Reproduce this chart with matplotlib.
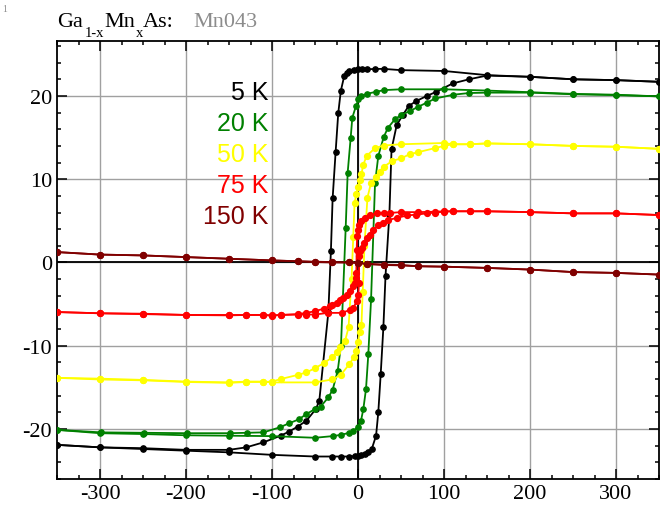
import matplotlib
matplotlib.use("Agg")
import matplotlib.pyplot as plt
from matplotlib.ticker import MultipleLocator

plt.rcParams["font.family"] = "Liberation Serif"
plt.rcParams["axes.unicode_minus"] = False

# field sweeps (Oe) and magnetisation
# 5 K
h5_down = [350, 300, 250, 200, 150, 100, 50, 30, 20, 10, 5, 0, -5, -10, -13, -16, -20, -23,
           -26, -29.5, -31.5, -34.5, -45, -49, -60, -70, -80, -90, -110, -130, -150, -200,
           -250, -300, -350]
m5_down = [21.7, 21.9, 22.0, 22.3, 22.5, 23.0, 23.1, 23.25, 23.25, 23.2, 23.2, 23.2, 23.15,
           23.0, 22.8, 22.4, 20.6, 17.9, 13.3, 7.7, 1.4, -6.0, -16.6, -17.6, -19.0, -19.7,
           -20.3, -20.8, -21.6, -22.2, -22.5, -22.5, -22.3, -22.2, -21.9]
h5_up = [-350, -300, -250, -200, -150, -100, -50, -30, -20, -10, -4, 0, 4, 8, 12, 16, 21,
         23.6, 26.4, 29.5, 32, 36.5, 39, 45, 52, 59, 68, 80, 91, 110, 129, 150, 200, 250,
         300, 350]
m5_up = [-21.9, -22.2, -22.4, -22.6, -22.8, -23.1, -23.3, -23.3, -23.3, -23.3, -23.25, -23.2,
         -23.1, -23.0, -22.8, -22.4, -20.8, -18.0, -13.4, -7.8, -1.6, 5.8, 13.6, 16.5, 17.7,
         18.8, 19.4, 20.0, 20.5, 21.5, 22.0, 22.45, 22.3, 22.0, 21.9, 21.7]

# 20 K
h20_down = [350, 300, 250, 200, 150, 100, 50, 30, 21, 10, 4, 0.5, -2.3, -6.6, -8.5, -12,
            -14.3, -19.8, -23.6, -29.5, -34.5, -43.4, -50, -60, -69, -80, -91, -110, -129,
            -149, -199, -249, -299, -350]
m20_down = [19.95, 20.15, 20.25, 20.45, 20.65, 20.8, 20.8, 20.7, 20.5, 20.25, 20.0, 19.6,
            18.8, 17.4, 15.0, 10.8, 4.2, -10.0, -13.0, -15.3, -16.2, -17.3, -17.6, -18.2,
            -18.85, -19.3, -19.8, -20.4, -20.45, -20.5, -20.5, -20.45, -20.4, -20.1]
h20_up = [-350, -300, -250, -200, -150, -100, -50, -29.5, -20, -10, -5.4, 0.4, 3.5, 6.2, 9.3,
          12, 15.2, 19.8, 23.6, 30, 35, 43, 50, 60.5, 70, 80, 90, 111, 129, 150, 200, 250,
          300, 350]
m20_up = [-20.1, -20.5, -20.6, -20.75, -20.8, -20.85, -21.05, -20.85, -20.7, -20.45, -20.25,
          -19.7, -19.0, -17.6, -15.2, -11.0, -4.4, 9.5, 12.8, 15.1, 16.2, 17.2, 17.7, 18.2,
          18.7, 19.2, 19.7, 20.15, 20.35, 20.4, 20.4, 20.2, 20.1, 19.95]

# 50 K
h50_down = [350, 300, 250, 200, 150, 130, 110, 100, 50, 30, 20, 10, 6, 4, 2, 0, -2, -4, -5.5,
            -7.5, -11, -15, -21, -25, -30, -40, -50, -60, -70, -90, -100, -110, -130, -150,
            -200, -250, -300, -350]
m50_down = [13.65, 13.9, 14.0, 14.2, 14.3, 14.2, 14.2, 14.35, 14.2, 14.05, 13.75, 12.8, 11.7,
            10.6, 9.9, 9.1, 8.2, 7.1, 3.1, -2.0, -7.8, -9.4, -10.2, -10.8, -11.4, -12.1,
            -12.7, -13.2, -13.5, -14.0, -14.3, -14.35, -14.35, -14.45, -14.35, -14.15,
            -14.05, -13.85]
h50_up = [-350, -300, -250, -200, -150, -130, -110, -100, -50, -30, -20, -10, -5, -2, 0, 2, 4,
          5.5, 7.5, 11, 15, 21, 25, 30, 40, 50, 60, 70, 90, 100, 110, 130, 150, 200, 250,
          300, 350]
m50_up = [-13.85, -13.95, -14.1, -14.3, -14.4, -14.3, -14.3, -14.4, -14.4, -14.05, -13.5,
          -12.2, -11.4, -10.6, -9.5, -8.4, -7.5, -3.5, 2.0, 7.8, 9.5, 10.3, 10.9, 11.5, 12.2,
          12.5, 13.0, 13.25, 13.75, 14.0, 14.2, 14.2, 14.3, 14.2, 14.0, 13.9, 13.65]

# 75 K
h75_down = [350, 300, 250, 200, 150, 130, 110, 100, 90, 70, 50, 37, 30, 22, 14, 8, 4, 1.5,
            0.5, -1.0, -1.5, -2.0, -2.5, -3.5, -5.4, -9.3, -13, -17, -21, -25, -30, -33,
            -40, -50, -60, -70, -90, -100, -110, -130, -150, -200, -250, -300, -350]
m75_down = [5.7, 5.9, 5.9, 6.05, 6.15, 6.15, 6.15, 6.15, 6.1, 6.05, 6.05, 5.95, 5.95, 5.9,
            5.65, 5.35, 4.95, 4.55, 3.95, 3.15, 1.55, -1.25, -1.85, -2.45, -2.85, -3.45,
            -3.85, -4.25, -4.5, -4.85, -5.05, -5.25, -5.55, -5.85, -6.05, -6.2, -6.3, -6.4,
            -6.3, -6.3, -6.3, -6.3, -6.15, -6.1, -5.95]
h75_up = [-350, -300, -250, -200, -150, -130, -110, -100, -90, -70, -60, -50, -35, -19, -9.3,
          -5.4, -1.5, 0.4, 1.0, 1.5, 2.3, 4.3, 7.3, 10, 14, 18, 23.6, 29.5, 35, 45, 57, 68,
          80, 90, 100, 110, 130, 150, 200, 250, 300, 350]
m75_up = [-5.95, -6.1, -6.2, -6.3, -6.35, -6.3, -6.3, -6.35, -6.3, -6.25, -6.25, -6.25, -6.05,
          -6.05, -5.7, -5.45, -4.65, -3.95, -2.5, 0.75, 1.35, 1.75, 2.35, 2.95, 3.35, 3.95,
          4.45, 4.75, 5.1, 5.35, 5.65, 5.75, 5.9, 6.0, 6.1, 6.15, 6.15, 6.15, 6.05, 5.9,
          5.9, 5.7]

# 150 K
h150_down = [350, 300, 250, 200, 150, 100, 70, 50, 30, 10, 0, -10, -30, -50, -70, -100, -150,
             -200, -250, -300, -350]
m150_down = [-1.45, -1.25, -1.15, -0.85, -0.65, -0.5, -0.45, -0.3, -0.25, -0.15, -0.05, 0.0,
             0.05, 0.1, 0.15, 0.25, 0.45, 0.65, 0.85, 0.95, 1.25]
h150_up = [-350, -300, -250, -200, -150, -100, -70, -50, -30, -10, 0, 10, 30, 50, 70, 100,
           150, 200, 250, 300, 350]
m150_up = [1.25, 0.95, 0.85, 0.65, 0.45, 0.25, 0.15, 0.05, 0.0, 0.0, -0.05, -0.2, -0.3,
           -0.35, -0.45, -0.5, -0.65, -0.85, -1.15, -1.25, -1.45]

labels = ["5 K", "20 K", "50 K", "75 K", "150 K"]
colors = ["black", "#008000", "#ffff00", "#ff0000", "#800000"]
loops = [
    (h5_down, m5_down, h5_up, m5_up),
    (h20_down, m20_down, h20_up, m20_up),
    (h50_down, m50_down, h50_up, m50_up),
    (h75_down, m75_down, h75_up, m75_up),
    (h150_down, m150_down, h150_up, m150_up),
]

fig = plt.figure(figsize=(6.6, 5.1), dpi=100)
ax = fig.add_axes([57 / 660, 30 / 510, 602 / 660, 438 / 510])

ax.set_xlim(-350, 350)
ax.set_ylim(-26, 26.6)
ax.xaxis.set_major_locator(MultipleLocator(100))
ax.xaxis.set_minor_locator(MultipleLocator(25))
ax.yaxis.set_major_locator(MultipleLocator(10))
ax.yaxis.set_minor_locator(MultipleLocator(2))
ax.grid(True, which="major", color="#a0a0a0", linewidth=1.0, zorder=0)
ax.set_axisbelow(True)
ax.axhline(0, color="black", linewidth=1.3, zorder=1)
ax.axvline(0, color="black", linewidth=1.3, zorder=1)

ax.tick_params(which="both", direction="in", top=True, right=True, labelsize=16,
               width=1.1, pad=3.5)
ax.tick_params(which="major", length=7)
ax.tick_params(which="minor", length=3)
for s in ax.spines.values():
    s.set_linewidth(1.3)

for (hd, md, hu, mu), c in zip(loops, colors):
    ms = 4.2 if c in ("#ffff00", "#ff0000", "#800000") else 3.8
    ax.plot(hd, md, "-o", color=c, markersize=ms, linewidth=1.3, zorder=3)
    ax.plot(hu, mu, "-o", color=c, markersize=ms, linewidth=1.3, zorder=3)

for i, (lab, c) in enumerate(zip(labels, colors)):
    ax.text(0.3505, 0.8836 - i * 0.0708, lab, transform=ax.transAxes, color=c,
            fontsize=18, family="Liberation Sans", ha="right", va="center")

# title pieces: main text with dropped subscripts, sample name in grey
title_parts = [("Ga", 57, 27, 16, "black"), ("1-x", 85, 37, 10.5, "black"),
               ("Mn", 104, 27, 16, "black"), ("x", 136, 37, 10.5, "black"),
               ("As:", 143, 27, 16, "black"), ("Mn043", 193, 27, 16, "#8c8c8c")]
for txt, px, py, fs, col in title_parts:
    fig.text(px / 660, 1 - py / 510, txt, fontsize=fs, color=col, va="baseline")
fig.text(2 / 660, 1 - 12 / 510, "1", fontsize=7, color="#8c8c8c")

fig.savefig("out.png", dpi=100)
